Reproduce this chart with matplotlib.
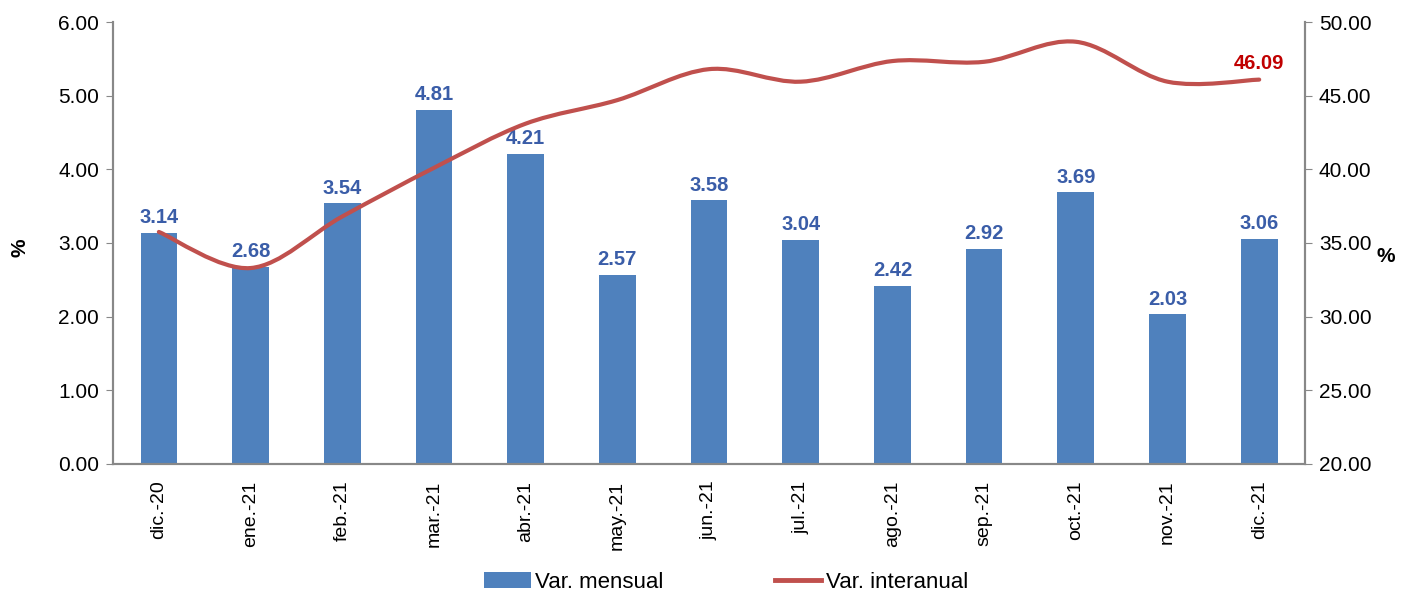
import matplotlib
matplotlib.use("Agg")
import matplotlib.pyplot as plt
from matplotlib.path import Path
from matplotlib.patches import PathPatch
from matplotlib.lines import Line2D
from matplotlib.patches import Patch

# Datos
meses = ["dic.-20", "ene.-21", "feb.-21", "mar.-21", "abr.-21", "may.-21", "jun.-21",
         "jul.-21", "ago.-21", "sep.-21", "oct.-21", "nov.-21", "dic.-21"]
var_mensual = [3.14, 2.68, 3.54, 4.81, 4.21, 2.57, 3.58, 3.04, 2.42, 2.92, 3.69, 2.03, 3.06]
var_interanual = [35.75, 33.3, 36.8, 40.1, 43.1, 44.7, 46.8, 45.95, 47.35, 47.3, 48.66, 45.95, 46.09]

azul = "#4F81BD"
rojo = "#C0504D"
gris = "#888888"

plt.rcParams["font.family"] = ["Liberation Sans", "DejaVu Sans"]

fig = plt.figure(figsize=(14.11, 5.95), dpi=100)
ax = fig.add_axes([0.0801, 0.2202, 0.8448, 0.7428])
ax2 = ax.twinx()

x = list(range(len(meses)))

# Barras
ax.bar(x, var_mensual, width=0.4, color=azul, zorder=2)
for xi, v in zip(x, var_mensual):
    ax.annotate(f"{v:.2f}", (xi, v), xytext=(0, 4), textcoords="offset points",
                ha="center", va="bottom", fontsize=14.5, fontweight="bold", color="#3A5DA8")

# Linea suavizada (curvas Bezier entre los puntos, como Excel)
pts = list(zip(x, var_interanual))
verts = [pts[0]]
codes = [Path.MOVETO]
n = len(pts)
for i in range(n - 1):
    p0 = pts[i - 1] if i > 0 else pts[i]
    p1 = pts[i]
    p2 = pts[i + 1]
    p3 = pts[i + 2] if i + 2 < n else pts[i + 1]
    c1 = (p1[0] + (p2[0] - p0[0]) / 6, p1[1] + (p2[1] - p0[1]) / 6)
    c2 = (p2[0] - (p3[0] - p1[0]) / 6, p2[1] - (p3[1] - p1[1]) / 6)
    verts += [c1, c2, p2]
    codes += [Path.CURVE4] * 3
ax2.add_patch(PathPatch(Path(verts, codes), facecolor="none", edgecolor=rojo,
                        linewidth=3, capstyle="round", zorder=3))
ax2.annotate(f"{var_interanual[-1]:.2f}", (x[-1], var_interanual[-1]), xytext=(0, 5),
             textcoords="offset points", ha="center", va="bottom", fontsize=14.5,
             fontweight="bold", color="#C00000")

# Ejes
ax.set_xlim(-0.5, len(meses) - 0.5)
ax.set_ylim(0, 6)
ax2.set_ylim(20, 50)
ax.set_yticks([0, 1, 2, 3, 4, 5, 6])
ax2.set_yticks([20, 25, 30, 35, 40, 45, 50])
ax.set_yticklabels([f"{v:.2f}" for v in ax.get_yticks()], fontsize=15)
ax2.set_yticklabels([f"{v:.2f}" for v in ax2.get_yticks()], fontsize=15)
ax.set_xticks(x)
ax.set_xticklabels(meses, rotation=90, fontsize=14)
ax.tick_params(axis="x", length=0, pad=12)
ax.tick_params(axis="y", color=gris, length=5, pad=5)
ax2.tick_params(axis="y", color=gris, length=5, pad=5)

for a in (ax, ax2):
    a.spines["top"].set_visible(False)
    for s in ("left", "right", "bottom"):
        a.spines[s].set_color(gris)
        a.spines[s].set_linewidth(1.5)

fig.text(20 / 1411, 1 - 248 / 595, "%", rotation=90, ha="center", va="center",
         fontsize=15, fontweight="bold")
fig.text(1386 / 1411, 1 - 257 / 595, "%", ha="center", va="center",
         fontsize=15, fontweight="bold")

# Leyenda
handles = [Patch(facecolor=azul, edgecolor="none"), Line2D([], [], color=rojo, linewidth=3.5)]
fig.legend(handles, ["Var. mensual", "Var. interanual"], loc="lower center",
           bbox_to_anchor=(726 / 1411, -0.03), ncol=2, frameon=False, fontsize=16,
           handlelength=2.1, handletextpad=0.2, columnspacing=5.0)

fig.savefig("out.png", dpi=100)
